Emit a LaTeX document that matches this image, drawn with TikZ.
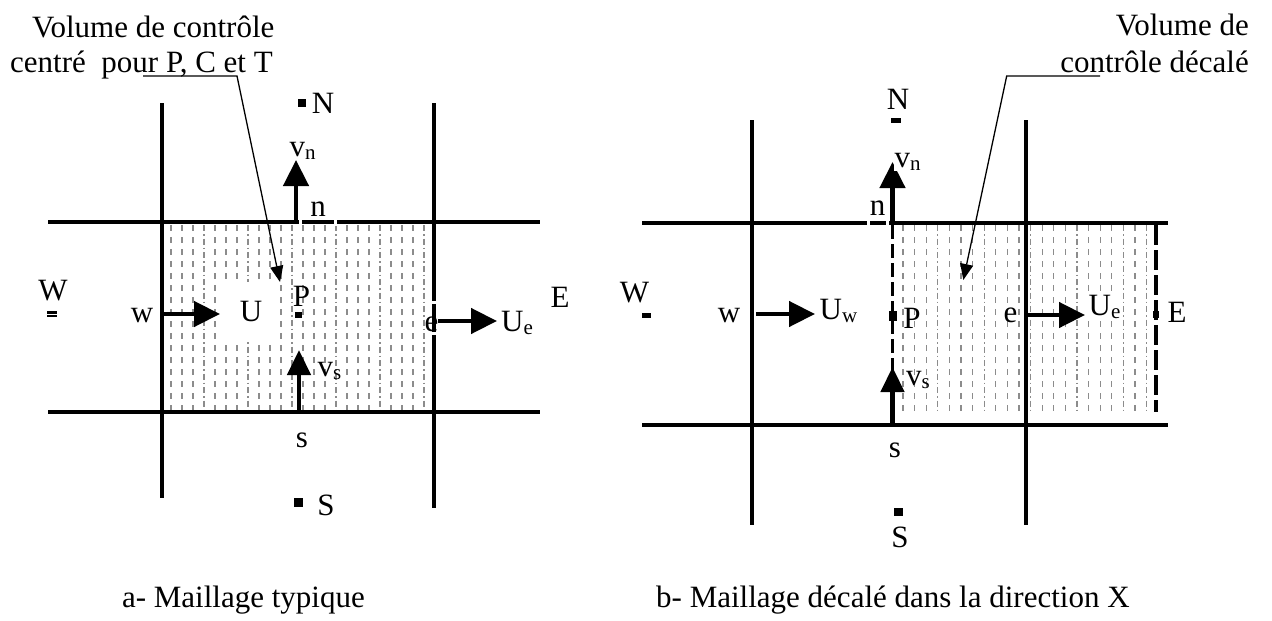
\documentclass[tikz,border=0pt]{standalone}
\usepackage{fontspec}
\setmainfont{Liberation Serif}
\usetikzlibrary{arrows.meta}
\newcommand\subtxt[1]{\raisebox{-3pt}{\fontsize{21}{21}\selectfont #1}}
\tikzset{
  gridline/.style={line width=4pt},
  flow/.style={line width=4.5pt, -{Triangle[length=26pt,width=25pt]}},
  lead/.style={line width=1.3pt, -{Triangle[length=16pt,width=13pt]}},
  lbl/.style={inner sep=0pt, font=\fontsize{31}{31}\selectfont},
  wlbl/.style={lbl, fill=white},
  ptmark/.style={fill=black},
  shadeA/.style={draw=black!45, line width=1.2pt, dash pattern=on 6pt off 6pt},
  shadeB/.style={draw=black!45, line width=1.2pt, dash pattern=on 6pt off 3pt on 1.5pt off 3pt},
  celledge/.style={line width=3.5pt, dash pattern=on 14pt off 5pt},
  gapmark/.style={fill=white}
}
\begin{document}
\begin{tikzpicture}[x=1pt,y=-1pt]
\useasboundingbox (0,0) rectangle (1272,621);

% ---------------- (a) left figure ----------------
% hatched control volume
\foreach \i in {0,1,2,4,5,6,8,9,10,12,13,14,16,17,18,20,21,22}
  \draw[shadeA] ({171+11*\i},225) -- ++(0,185);
\foreach \i in {3,7,11,15,19,23}
  \draw[shadeB] ({171+11*\i},225) -- ++(0,185);

% grid lines
\coordinate (aT1) at (48,222);   \coordinate (aT2) at (540,222);
\coordinate (aB1) at (48,412);   \coordinate (aB2) at (540,412);
\coordinate (aL1) at (162,103);  \coordinate (aL2) at (162,498);
\coordinate (aR1) at (434,103);  \coordinate (aR2) at (434,508);
\draw[gridline] (aT1) -- (aT2);
\draw[gridline] (aB1) -- (aB2);
\draw[gridline] (aL1) -- (aL2);
\draw[gridline] (aR1) -- (aR2);
% small breaks in the lines
\fill[gapmark] (299,218) rectangle (301.5,226);
\fill[gapmark] (334,218) rectangle (336.5,226);
\fill[gapmark] (430,301) rectangle (438,303.5);
\fill[gapmark] (430,332) rectangle (438,334.5);

% white box behind U
\node[wlbl, minimum width=50pt, minimum height=60pt] (aUbox) at (250,312) {};
\node[lbl] (aU) at (251,311) {U};

% point markers
\fill[ptmark] (297.7,98.7) rectangle (305.7,106.7);
\fill[ptmark] (294.8,311.7) rectangle (301.8,318.3);
\fill[ptmark] (293.5,498) rectangle (302.5,507);
\fill[ptmark] (47,311.3) rectangle (57,313.6);
\fill[ptmark] (47,315) rectangle (57,317.3);

% velocity arrows
\coordinate (aw) at (162,314);   \coordinate (awt) at (220,314);
\coordinate (ae) at (438,321);   \coordinate (aet) at (497,321);
\coordinate (an) at (296,222);   \coordinate (ant) at (296,160);
\coordinate (as) at (299,412);   \coordinate (ast) at (299,350);
\draw[flow] (aw) -- (awt);
\draw[flow] (ae) -- (aet);
\draw[flow] (an) -- (ant);
\draw[flow, -{Triangle[length=25pt,width=23pt]}] (as) -- (ast);

% labels
\node[lbl] (aN) at (323,103) {N};
\node[lbl] (avn) at (302.5,151) {v\subtxt{n}};
\node[lbl] (an0) at (318,209) {n};
\node[lbl] (aW) at (53,291) {W};
\node[lbl] (aw0) at (142,316) {w};
\node[lbl] (aP) at (301.5,296) {P};
\node[lbl] (ae0) at (431.5,324) {e};
\node[lbl] (aUe) at (517,322.5) {U\subtxt{e}};
\node[lbl] (aE) at (560,297.5) {E};
\node[lbl] (avs) at (329.5,371) {v\subtxt{s}};
\node[lbl] (as0) at (302,440) {s};
\node[lbl] (aS) at (326,505) {S};

% title and leader
\node[lbl, anchor=base west] (atitle1) at (32,37) {Volume de contrôle};
\node[lbl, anchor=base west] (atitle2) at (10,72) {centré\ \ pour P, C et T};
\coordinate (alead0) at (143,76);
\coordinate (alead1) at (237,76);
\coordinate (aleadt) at (280,282);
\draw[lead] (alead0) -- (alead1) -- (aleadt);

\node[lbl, anchor=base east] (acap) at (365,607) {a- Maillage typique};

% ---------------- (b) right figure ----------------
\foreach \i in {0,1,2,4,5,6,8,9,10,12,13,14,16,17,18,20}
  \draw[shadeA] ({903+11.6*\i},225) -- ++(0,188);
\foreach \i in {3,7,11,15,19,21}
  \draw[shadeB] ({903+11.6*\i},225) -- ++(0,188);

\coordinate (bT1) at (642,222.7); \coordinate (bT2) at (1168,222.7);
\coordinate (bB1) at (642,425);   \coordinate (bB2) at (1168,425);
\coordinate (bL1) at (752,120);   \coordinate (bL2) at (752,525);
\coordinate (bR1) at (1026,120);  \coordinate (bR2) at (1026,525);
\draw[gridline] (bT1) -- (bT2);
\draw[gridline] (bB1) -- (bB2);
\draw[gridline] (bL1) -- (bL2);
\draw[gridline] (bR1) -- (bR2);
\fill[gapmark] (866.5,218) rectangle (869.5,227);
\fill[gapmark] (885.5,218) rectangle (888.5,227);

% dashed faces of the staggered control volume
\coordinate (bcw1) at (892.5,225); \coordinate (bcw2) at (892.5,370);
\coordinate (bce1) at (1156,225);  \coordinate (bce2) at (1156,412);
\draw[celledge] (bcw1) -- (bcw2);
\draw[celledge, dash pattern=on 20pt off 5pt] (bce1) -- (bce2);

% point markers
\fill[ptmark] (890.7,118) rectangle (900.7,123);
\fill[ptmark] (642,313) rectangle (651,317.5);
\fill[ptmark] (888.5,310.7) rectangle (896.5,321);
\fill[ptmark] (1152.7,310.7) rectangle (1159.3,318.3);
\fill[ptmark] (893.6,508) rectangle (903.4,516);

% velocity arrows
\coordinate (bw) at (756,314);    \coordinate (bwt) at (815,314);
\coordinate (be) at (1026,315);   \coordinate (bet) at (1085,315);
\coordinate (bn) at (892.5,222.7);\coordinate (bnt) at (892.5,162);
\coordinate (bs) at (892.5,425);  \coordinate (bst) at (892.5,367);
\draw[flow] (bw) -- (bwt);
\draw[flow] (be) -- (bet);
\draw[flow] (bn) -- (bnt);
\draw[flow, -{Triangle[length=25pt,width=23pt]}] (bs) -- (bst);

% labels
\node[lbl] (bN) at (898,99) {N};
\node[wlbl, inner sep=1pt] (bvn) at (907.5,161.5) {v\subtxt{n}};
\node[lbl] (bn0) at (877.5,208) {n};
\node[lbl] (bW) at (634.5,292.5) {W};
\node[lbl] (bw0) at (729,315.5) {w};
\node[lbl] (bUw) at (838.5,310.5) {U\subtxt{w}};
\node[lbl] (bP) at (912,318) {P};
\node[lbl] (be0) at (1010.5,315.5) {e};
\node[wlbl, inner sep=1pt] (bUe) at (1104.5,306.5) {U\subtxt{e}};
\node[lbl] (bE) at (1177,312) {E};
\node[lbl] (bvs) at (918,380) {v\subtxt{s}};
\node[lbl] (bs0) at (895,450) {s};
\node[lbl] (bS) at (900,537) {S};

\node[lbl, anchor=base east] (btitle1) at (1249,35) {Volume de};
\node[lbl, anchor=base east] (btitle2) at (1249,72) {contrôle décalé};
\coordinate (blead0) at (1100,76);
\coordinate (blead1) at (1006.7,76);
\coordinate (bleadt) at (963.3,280);
\draw[lead] (blead0) -- (blead1) -- (bleadt);

\node[lbl, anchor=base west] (bcap) at (656,607) {b- Maillage décalé dans la direction X};
\end{tikzpicture}
\end{document}
